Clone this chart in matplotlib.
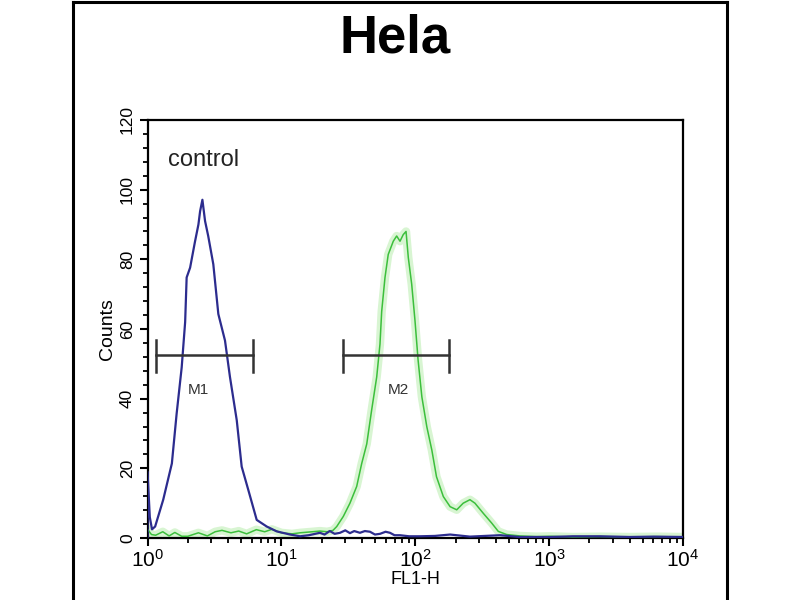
import math
import matplotlib
matplotlib.use("Agg")
import matplotlib.pyplot as plt
from matplotlib.lines import Line2D
from matplotlib.ticker import FixedLocator, LogLocator, NullFormatter, FuncFormatter

plt.rcParams['font.family'] = ['Liberation Sans', 'DejaVu Sans']
plt.rcParams['mathtext.fontset'] = 'custom'
plt.rcParams['mathtext.rm'] = 'Liberation Sans'
plt.rcParams['mathtext.it'] = 'Liberation Sans'

# ---- data ----
title = "Hela"
x_label = "FL1-H"
y_label = "Counts"
control_label = "control"

control_fl1 = [1.0, 1.0, 1.04, 1.08, 1.14, 1.31, 1.52, 1.65, 1.80, 1.91, 1.96, 2.08, 2.26,
               2.40, 2.47, 2.57, 2.69, 2.84, 3.10, 3.38, 3.79, 4.13, 4.64, 5.05, 5.66,
               6.54, 7.77, 9.23, 11.6, 13.8, 16.0, 19.4, 21.0, 23.0, 25.0, 27.4, 30.0,
               32.5, 35.0, 38.6, 42.0, 45.9, 50.0, 54.5, 60.0, 64.7, 70.0, 76.9, 90.0,
               108, 140, 182, 256, 330, 430, 600, 1014, 1500, 2395, 4000, 6000, 10000]
control_counts = [0, 19, 6, 2.5, 3.3, 11, 21.4, 35.7, 49, 62, 74.8, 77.6, 85,
                  90, 93.8, 97.1, 91, 86.7, 78.6, 64.3, 56.7, 46.2, 33.8, 20.5, 13.8,
                  5.2, 3.3, 1.9, 1.0, 0.5, 0.8, 1.5, 1.0, 2.0, 1.2, 1.5, 2.2,
                  1.4, 2.0, 1.5, 2.0, 1.8, 1.0, 1.2, 1.8, 1.5, 0.8, 0.8, 0.5,
                  0.5, 0.6, 1.0, 0.4, 0.6, 0.8, 0.3, 0.3, 0.5, 0.5, 0.3, 0.4, 0.3]

sample_fl1 = [1.0, 1.07, 1.15, 1.3, 1.45, 1.6, 1.8, 2.0, 2.4, 2.8, 3.2, 3.6, 4.2, 4.8,
              5.5, 6.5, 7.5, 8.5, 10.0, 12.0, 13.8, 17.0, 19.4, 22.0, 24.3, 25.9, 29.0,
              32.5, 36.5, 39.8, 43.4, 47.2, 51.5, 54.5, 56.1, 59.4, 62.8, 68.5, 72.6,
              76.9, 81.3, 85.3, 88.7, 94.0, 99.5, 105, 112, 122, 133, 144, 162, 182,
              204, 228, 256, 279, 322, 372, 417, 482, 606, 800, 1014, 1500, 2395,
              4000, 6500, 10000]
sample_counts = [2.5, 1.0, 0.8, 1.8, 0.6, 1.6, 0.5, 0.5, 1.5, 0.6, 1.8, 2.2, 1.5, 2.0,
                 1.2, 2.4, 1.8, 2.5, 1.5, 1.2, 1.5, 1.8, 2.0, 1.8, 2.2, 3.3, 6.2,
                 10, 14.8, 21.4, 27, 36.7, 46.2, 55.7, 65, 74.8, 81.4, 85.2, 86.7,
                 85.2, 87.1, 88, 80.5, 72.9, 62.4, 51, 40.5, 31.9, 25.2, 17.6, 11.9, 9,
                 8.1, 10, 11, 10, 7.1, 4.3, 1.9, 1.0, 0.6, 0.4, 0.5, 0.3, 0.4,
                 0.3, 0.4, 0.3]

markers = ["M1", "M2"]
marker_lo = [1.15, 28.8]
marker_hi = [6.17, 178.5]
marker_level = 52.5
marker_label_x = [2.4, 75.0]
marker_label_y = 42.5

y_ticks = [0, 20, 40, 60, 80, 100, 120]
x_ticks = [1, 10, 100, 1000, 10000]

# ---- figure ----
fig = plt.figure(figsize=(8, 6), dpi=100)
fig.patch.set_facecolor('white')

# outer frame (left, top, right)
for xs, ys in [([0.0915, 0.0915], [-0.01, 0.997]),
               ([0.0915, 0.9085], [0.997, 0.997]),
               ([0.9085, 0.9085], [-0.01, 0.997])]:
    fig.add_artist(Line2D(xs, ys, transform=fig.transFigure, color='black', lw=2.2))

ax = fig.add_axes([0.1844, 0.1033, 0.6694, 0.6967])
ax.set_xscale('log')
ax.set_xlim(1, 10000)
ax.set_ylim(0, 120)

# sample (green) with glow
ax.plot(sample_fl1, sample_counts, color='#d8f5d2', lw=6, solid_joinstyle='round', zorder=2)
ax.plot(sample_fl1, sample_counts, color='#3cbf3c', lw=1.1, zorder=3)
# control (blue)
ax.plot(control_fl1, control_counts, color='#2c2c8e', lw=1.6, zorder=4)

# markers
for name, lo, hi, lx in zip(markers, marker_lo, marker_hi, marker_label_x):
    ax.plot([lo, hi], [marker_level, marker_level], color='#333333', lw=1.8, zorder=5)
    for xv in (lo, hi):
        ax.plot([xv, xv], [marker_level - 4.8, marker_level + 4.3], color='#333333', lw=1.8, zorder=5)
    ax.text(lx, marker_label_y, name, ha='center', va='center', fontsize=11,
            color='#333333', zorder=6)

ax.text(1.42, 108.5, control_label, ha='left', va='center', fontsize=17, color='#222222')

# axes styling
for s in ax.spines.values():
    s.set_linewidth(1.6)
    s.set_color('black')

ax.yaxis.set_major_locator(FixedLocator(y_ticks))
ax.yaxis.set_minor_locator(FixedLocator([v for v in range(0, 121, 4) if v % 20]))
ax.xaxis.set_major_locator(FixedLocator(x_ticks))
ax.xaxis.set_minor_locator(LogLocator(base=10, subs=range(2, 10)))
ax.xaxis.set_minor_formatter(NullFormatter())
ax.xaxis.set_major_formatter(FuncFormatter(lambda v, p: r'$10^{%d}$' % round(math.log10(v))))

ax.tick_params(axis='both', which='major', direction='out', length=6, width=1.5, color='black')
ax.tick_params(axis='both', which='minor', direction='out', length=3.5, width=1.3, color='black')
ax.tick_params(axis='x', which='major', labelsize=15, pad=2)
ax.tick_params(axis='y', which='major', labelsize=12.5, pad=3)
for lab in ax.get_yticklabels():
    lab.set_rotation(90)
    lab.set_va('center')

ax.set_xlabel(x_label, fontsize=13, labelpad=0)
ax.set_ylabel(y_label, fontsize=14, labelpad=3)

fig.text(0.494, 0.936, title, ha='center', va='center', fontsize=38, fontweight='bold')

fig.savefig('out.png', dpi=100, facecolor='white')
